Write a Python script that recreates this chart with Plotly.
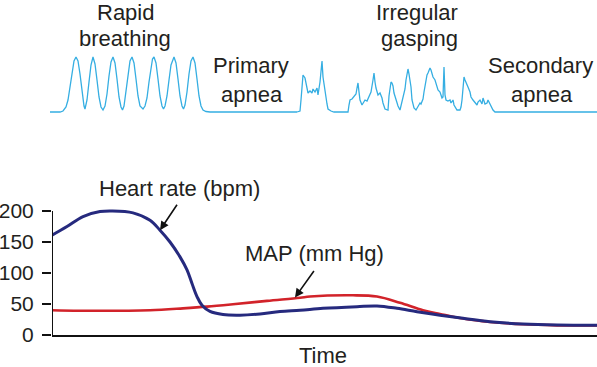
import plotly.graph_objects as go

# ---------------- data ----------------
# Top panel: breathing trace (time in arbitrary units, amplitude above baseline)
breath_t = [50, 60, 63, 66, 68, 70, 72, 74, 76, 78, 80, 82, 84, 85,
            87, 89, 91, 93, 95, 97, 99, 101, 103,
            105, 107, 109, 111, 113, 115, 117, 119, 121, 122.5,
            124, 126, 128, 130, 132, 134, 136, 138, 140, 143,
            145, 147, 149, 151, 152.5, 154, 156, 158, 160, 162, 163.5,
            165, 167, 169, 171, 174, 176, 178, 180, 182, 183.5,
            185, 187, 189, 191, 193, 195, 197, 199, 201, 203, 206, 210, 297]
breath_a = [0, 0, 1, 5, 12, 25, 40, 51, 55, 51, 38, 20, 6, 3,
            12, 30, 47, 55, 48, 32, 15, 5, 2,
            6, 18, 36, 50, 55, 49, 33, 15, 5, 2,
            6, 20, 38, 51, 55, 49, 33, 16, 6, 3,
            6, 14, 30, 46, 53, 55, 49, 33, 16, 6, 3,
            6, 16, 32, 47, 55, 49, 33, 16, 6, 3,
            7, 20, 38, 51, 55, 49, 33, 16, 6, 2, 0.5, 0, 0]

gasp_t = [297, 300, 301, 302, 303, 305, 306, 308, 310, 312, 313, 315, 317, 318, 320, 321, 322, 323,
          325, 327, 328, 331, 334, 348, 349, 350, 352, 354, 356, 357, 358, 359, 360, 362, 364, 365,
          367, 369, 371, 373, 374, 375, 376, 378, 380, 382, 383, 385, 388, 389, 390, 391, 392, 393,
          394, 396, 398, 400, 401, 403, 405, 406, 407, 408, 409, 410, 411, 412, 414, 416, 418, 420,
          421, 423, 424, 425, 426, 427, 428, 430, 431, 432, 433, 435, 437, 438, 440, 442, 443, 444,
          445, 446, 448, 450, 451, 453, 454, 456, 457, 460, 461, 462, 463, 464, 465, 466, 468, 470,
          471, 473, 475, 477, 478, 480, 482, 483, 485, 487, 488, 490, 492, 493, 495, 597]
gasp_a = [0, 1, 12, 27, 37, 34, 28, 19, 21, 19, 23, 20, 24, 17, 30, 42, 51, 35,
          19, 8, 3, 1, 0, 0, 7, 12, 13, 15, 18, 24, 29, 20, 12, 7, 11, 12,
          11, 15, 20, 32, 39, 30, 24, 17, 19, 14, 9, 3, 2, 16, 26, 30, 29, 26,
          19, 12, 6, 2, 6, 15, 23, 32, 39, 43, 38, 32, 25, 12, 4, 2, 6, 9,
          8, 13, 20, 26, 32, 37, 39, 44, 42, 38, 35, 32, 25, 22, 20, 14, 15, 45,
          17, 12, 11, 12, 9, 12, 7, 4, 2, 2, 5, 12, 24, 35, 32, 30, 25, 20,
          15, 12, 10, 7, 10, 12, 8, 14, 8, 9, 12, 8, 5, 2, 0, 0]

# Bottom panel: heart rate and MAP over time
hr_t = [52, 67, 83, 100, 112, 133, 150, 160, 170, 180, 187, 192, 197, 202, 210, 223, 240, 260,
        280, 300, 323, 357, 377, 397, 417, 440, 463, 490, 523, 557, 597]
hr_v = [161, 175, 191, 199, 200, 197, 185, 169, 150, 126, 105, 83, 62, 48, 38, 33, 32, 34,
        38, 40, 43, 45.7, 46.8, 43, 37.6, 32, 27, 21.5, 17.7, 16, 15.6]

map_t = [52, 100, 150, 183, 207, 233, 267, 300, 310, 353, 377, 400, 423, 440, 463, 490, 523, 557, 597]
map_v = [40, 39, 40, 43, 45.7, 49.5, 55, 60, 62, 64, 62, 52, 40, 34, 26.5, 21, 17.3, 15.6, 15.2]

y_ticks = [0, 50, 100, 150, 200]

# ---------------- layout helpers ----------------
W, H = 597, 367
MB = 32
PH = H - MB


def px(x):
    return x / W


def py(y):
    return (PH - y) / PH


FONT = "Arial, 'Liberation Sans', Helvetica, sans-serif"
TXT = "#231F20"
BLUE_TRACE = "#35AEE2"

fig = go.Figure()

fig.add_trace(go.Scatter(x=breath_t, y=breath_a, mode="lines", xaxis="x2", yaxis="y2",
                         line=dict(color=BLUE_TRACE, width=1.3), hoverinfo="skip"))
fig.add_trace(go.Scatter(x=gasp_t, y=gasp_a, mode="lines", xaxis="x2", yaxis="y2",
                         line=dict(color=BLUE_TRACE, width=1.3), hoverinfo="skip"))

fig.add_trace(go.Scatter(x=map_t, y=map_v, mode="lines", line_shape="spline",
                         line=dict(color="#D2232A", width=2.6), hoverinfo="skip"))
fig.add_trace(go.Scatter(x=hr_t, y=hr_v, mode="lines", line_shape="spline",
                         line=dict(color="#262A7E", width=3), hoverinfo="skip"))

annotations = []


def label(text, cx, cy):
    annotations.append(dict(text=text, x=px(cx), y=py(cy), xref="paper", yref="paper",
                            xanchor="center", yanchor="middle", showarrow=False,
                            font=dict(size=22, color=TXT, family=FONT)))


label("Rapid", 125, 12)
label("breathing", 125, 39)
label("Primary", 251, 65)
label("apnea", 252, 94)
label("Irregular", 417, 12)
label("gasping", 419, 39)
label("Secondary", 540, 65)
label("apnea", 542, 94)
label("Heart rate (bpm)", 180, 189)
label("MAP (mm Hg)", 314, 253)
label("Time", 323, 355)

# arrows
annotations.append(dict(x=160, y=169, xref="x", yref="y", ax=18, ay=-27, axref="pixel", ayref="pixel",
                        text="", showarrow=True, arrowhead=2, arrowsize=1.1, arrowwidth=1.6,
                        arrowcolor="#111"))
annotations.append(dict(x=295, y=60.5, xref="x", yref="y", ax=20, ay=-28, axref="pixel", ayref="pixel",
                        text="", showarrow=True, arrowhead=2, arrowsize=1.1, arrowwidth=1.6,
                        arrowcolor="#111"))

fig.update_layout(
    width=W, height=H,
    margin=dict(l=0, r=0, t=0, b=MB, pad=0),
    paper_bgcolor="white", plot_bgcolor="white",
    showlegend=False,
    font=dict(family=FONT, color=TXT),
    xaxis=dict(domain=[px(52), 1], range=[52, 597], showline=True, linecolor="#111", linewidth=2,
               showgrid=False, zeroline=False, showticklabels=False, ticks="", automargin=False,
               fixedrange=True),
    yaxis=dict(domain=[0, 127 / PH], range=[0, 204.8], showline=False, showgrid=False, zeroline=False,
               tickvals=y_ticks, ticktext=[str(v) for v in y_ticks], ticks="outside", ticklen=9,
               tickwidth=2, tickcolor="#111", tickfont=dict(size=21, color=TXT, family=FONT),
               ticklabelstandoff=4, automargin=False, fixedrange=True),
    xaxis2=dict(domain=[px(48), 1], range=[48, 597], anchor="y2", visible=False, automargin=False),
    yaxis2=dict(domain=[py(122), py(50)], range=[-10, 62], anchor="x2", visible=False, automargin=False),
    annotations=annotations,
    shapes=[dict(type="line", xref="x", yref="y", x0=52, x1=52, y0=0, y1=200,
                 line=dict(color="#111", width=2))],
)

fig.write_html("out.html", config={"displayModeBar": False},
               post_script="document.body.style.margin='0';document.body.style.overflow='hidden';")
